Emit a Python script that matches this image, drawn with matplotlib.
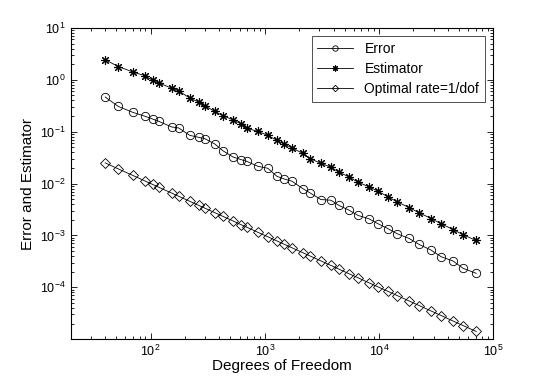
import matplotlib
matplotlib.use("Agg")
import matplotlib.pyplot as plt

plt.rcParams['font.family'] = ['Liberation Sans', 'DejaVu Sans']
plt.rcParams['mathtext.fontset'] = 'custom'
plt.rcParams['mathtext.rm'] = 'Liberation Sans'
plt.rcParams['mathtext.it'] = 'Liberation Sans:italic'
plt.rcParams['mathtext.bf'] = 'Liberation Sans:bold'

# Datos
dof = [40, 52, 70, 90, 104, 118, 153, 176, 220, 264, 298, 364, 428, 524, 616,
       695, 868, 1062, 1274, 1468, 1726, 2155, 2483, 3098, 3793, 4460, 5454,
       6546, 8170, 9795, 11990, 14380, 18330, 22440, 28590, 34990, 44570,
       54540, 70930]

error = [0.465, 0.307, 0.235, 0.197, 0.175, 0.158, 0.123, 0.118, 0.0849,
         0.0777, 0.0733, 0.0580, 0.0431, 0.0326, 0.0290, 0.0268, 0.0215,
         0.0197, 0.0138, 0.0123, 0.0111, 0.00794, 0.00662, 0.00492, 0.00477,
         0.00378, 0.00307, 0.00243, 0.00209, 0.00168, 0.00135, 0.00108,
         0.000875, 0.000671, 0.000521, 0.000389, 0.000321, 0.000232, 0.000186]

estimator = [2.43, 1.80, 1.41, 1.19, 0.97, 0.865, 0.69, 0.61, 0.445, 0.372,
             0.316, 0.246, 0.203, 0.170, 0.143, 0.116, 0.101, 0.0849, 0.0680,
             0.0582, 0.0486, 0.0381, 0.0303, 0.0246, 0.0206, 0.0165, 0.0135,
             0.0106, 0.00865, 0.00711, 0.00555, 0.00445, 0.00345, 0.00273,
             0.00212, 0.00168, 0.00130, 0.00103, 0.00080]

optimal = [0.025, 0.0192, 0.0143, 0.0111, 0.00962, 0.00847, 0.00654,
           0.00568, 0.00455, 0.00379, 0.00336, 0.00275, 0.00234, 0.00191,
           0.00162, 0.00144, 0.00115, 0.000942, 0.000785, 0.000681,
           0.000579, 0.000464, 0.000403, 0.000323, 0.000264, 0.000224,
           0.000183, 0.000153, 0.000122, 0.000102, 8.34e-05, 6.95e-05,
           5.46e-05, 4.46e-05, 3.50e-05, 2.86e-05, 2.24e-05, 1.83e-05,
           1.41e-05]

fig = plt.figure(figsize=(5.45, 3.82), dpi=100)
ax = fig.add_axes([0.13, 0.112, 0.775, 0.815])

ax.loglog(dof, error, 'k-', marker='o', mfc='none', ms=6, lw=0.6, mew=0.6, label='Error')
ax.loglog(dof, estimator, 'k-', marker=(8, 2, 0), ms=6.5, lw=0.6, mew=0.8, label='Estimator')
ax.loglog(dof, optimal, 'k-', marker='D', mfc='none', ms=5, lw=0.6, mew=0.6, label='Optimal rate=1/dof')

ax.set_xlim(20, 1e5)
ax.set_ylim(1e-5, 10)
ax.set_xticks([1e2, 1e3, 1e4, 1e5])
ax.set_yticks([1e-4, 1e-3, 1e-2, 1e-1, 1e0, 1e1])
ax.tick_params(which='both', direction='in', top=True, right=True, labelsize=9, width=0.6)
ax.tick_params(which='major', length=4)
ax.tick_params(which='minor', length=2)
for s in ax.spines.values():
    s.set_linewidth(0.8)

ax.set_xlabel('Degrees of Freedom', fontsize=11, labelpad=0)
ax.set_ylabel('Error and Estimator', fontsize=11)

leg = ax.legend(loc='upper right', fancybox=False, edgecolor='k', fontsize=10,
                handlelength=2.6, borderaxespad=0.6, markerscale=0.65,
                labelspacing=0.45)
leg.get_frame().set_linewidth(0.6)

plt.savefig('out.png', dpi=100)
